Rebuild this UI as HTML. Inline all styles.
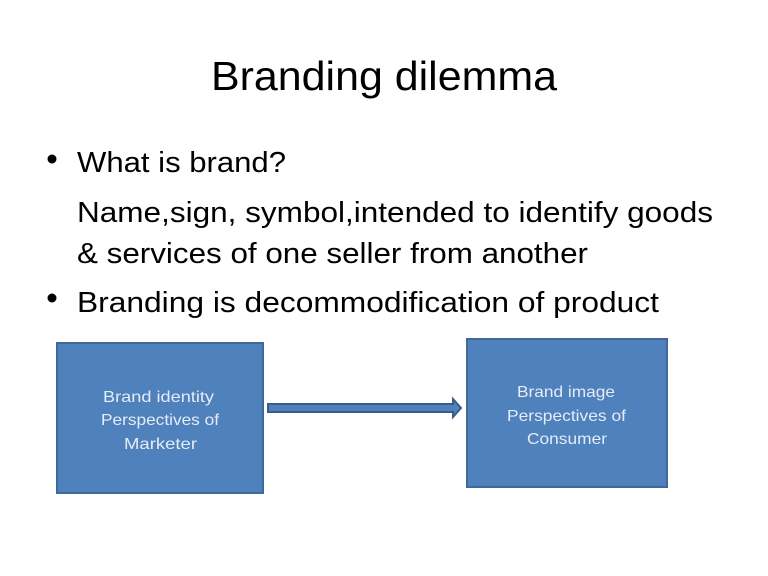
<!DOCTYPE html>
<html>
<head>
<meta charset="utf-8">
<style>
html,body{margin:0;padding:0;background:#fff}
svg{display:block}
text{font-family:"Liberation Sans",sans-serif}
</style>
</head>
<body>
<svg width="768" height="576" viewBox="0 0 768 576" xmlns="http://www.w3.org/2000/svg">
<rect width="768" height="576" fill="#fff"/>
<text x="211" y="90" font-size="41" fill="#000" textLength="346" lengthAdjust="spacingAndGlyphs">Branding dilemma</text>
<circle cx="52" cy="159" r="4.5" fill="#000"/>
<text x="77" y="172" font-size="28.5" fill="#000" textLength="209" lengthAdjust="spacingAndGlyphs">What is brand?</text>
<text x="77" y="222" font-size="28.5" fill="#000" textLength="636" lengthAdjust="spacingAndGlyphs">Name,sign, symbol,intended to identify goods</text>
<text x="77" y="263" font-size="28.5" fill="#000" textLength="511" lengthAdjust="spacingAndGlyphs">&amp; services of one seller from another</text>
<circle cx="52" cy="298" r="4.5" fill="#000"/>
<text x="77" y="312" font-size="28.5" fill="#000" textLength="582" lengthAdjust="spacingAndGlyphs">Branding is decommodification of product</text>
<rect x="57" y="343" width="206" height="150" fill="#4f81bd" stroke="#41689a" stroke-width="2"/>
<rect x="467" y="339" width="200" height="148" fill="#4f81bd" stroke="#41689a" stroke-width="2"/>
<polygon points="268,404 453,404 453,399 461,408 453,417 453,412 268,412" fill="#4f81bd" stroke="#385d8a" stroke-width="2"/>
<g font-size="16" fill="#e4ecf5">
<text x="103" y="402" textLength="111" lengthAdjust="spacingAndGlyphs">Brand identity</text>
<text x="101" y="425" textLength="118" lengthAdjust="spacingAndGlyphs">Perspectives of</text>
<text x="124" y="449" textLength="73" lengthAdjust="spacingAndGlyphs">Marketer</text>
<text x="517" y="397" textLength="98" lengthAdjust="spacingAndGlyphs">Brand image</text>
<text x="507" y="421" textLength="119" lengthAdjust="spacingAndGlyphs">Perspectives of</text>
<text x="527" y="444" textLength="80" lengthAdjust="spacingAndGlyphs">Consumer</text>
</g>
</svg>
</body>
</html>
